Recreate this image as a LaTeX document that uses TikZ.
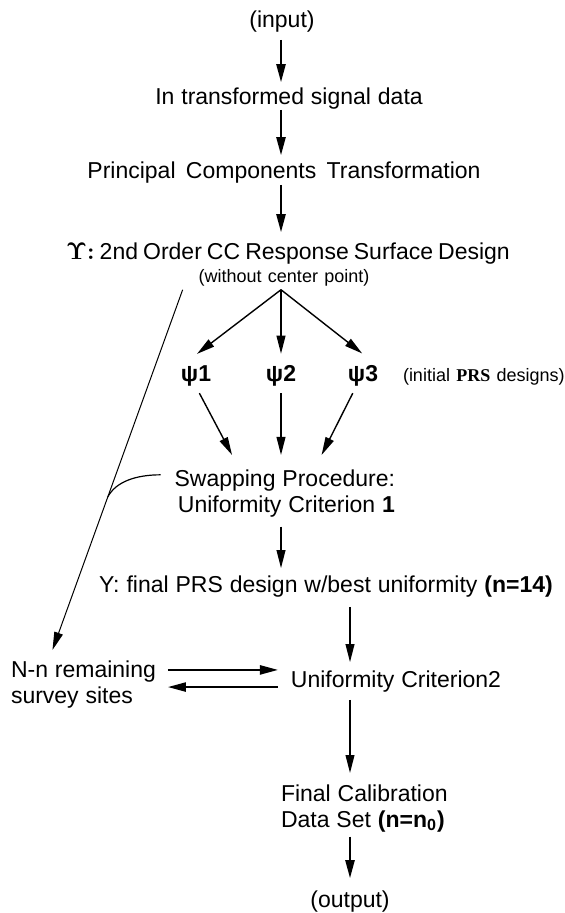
\documentclass[tikz,border=0pt]{standalone}
\usepackage{fontspec}
\setmainfont{Liberation Sans}
\newfontfamily\prsfont{Liberation Serif}
\usetikzlibrary{arrows.meta,calc}
\begin{document}
\begin{tikzpicture}[x=0.5pt,y=-0.5pt,
    lbl/.style={inner sep=0pt, outer sep=0pt, font={\fontsize{11.5}{12.8}\selectfont\spaceskip=0.3em\relax}},
    small/.style={inner sep=0pt, outer sep=0pt, font={\fontsize{9}{11}\selectfont\spaceskip=0.35em\relax}},
    arr/.style={line width=0.9pt, -{Triangle[length=9pt,width=4.6pt]}},
    thinarr/.style={line width=0.7pt, -{Triangle[length=9pt,width=4.4pt]}}]
    \useasboundingbox (0,0) rectangle (564,913);

    % Main column
    \node[lbl, anchor=base] (input) at (282,28) {(input)};
    \node[lbl, anchor=base] (tdata) at (289,105) {In transformed signal data};
    \node[lbl, anchor=base] (pct) at (284,179) {{\spaceskip=0.45em Principal Components Transformation}};
    \node[lbl, anchor=base] (ccd) at (288,260) {{\spaceskip=0.22em{\boldmath$\Upsilon{:}$} 2nd Order CC Response Surface Design}};
    \node[small, anchor=base] (wo) at (284,283) {(without center point)};

    % Initial designs
    \node[lbl, anchor=base] (p1) at (196,382) {\textbf{ψ1}};
    \node[lbl, anchor=base] (p2) at (281,382) {\textbf{ψ2}};
    \node[lbl, anchor=base] (p3) at (363,382) {\textbf{ψ3}};
    \node[small, anchor=base west] (init) at (403,382) {(initial {\prsfont\bfseries PRS} designs)};

    \node[lbl, anchor=north east, align=right] (swap) at (395,470) {Swapping Procedure:\\Uniformity Criterion \textbf{1}};
    \node[lbl, anchor=base] (fin) at (326,592) {Y: final PRS design w/best uniformity \textbf{(n=14)}};

    % Second stage
    \node[lbl, anchor=north west, align=left] (rem) at (11,661) {N-n remaining\\survey sites};
    \node[lbl, anchor=base] (uc2) at (396,687) {Uniformity Criterion2};
    \node[lbl, anchor=north west, align=left] (cal) at (281,785) {Final Calibration\\Data Set \textbf{(n=n\textsubscript{0})}};
    \node[lbl, anchor=base] (out) at (350,907) {(output)};

    % Arrows down the main column
    \draw[arr, shorten <=3.5pt, shorten >=3.1pt] (input.south -| p2) -- (tdata.north -| p2);
    \draw[arr, shorten >=3.6pt] (tdata.south -| p2) -- (pct.north -| p2);
    \draw[arr, shorten <=0.5pt, shorten >=5.6pt] (pct.south -| p2) -- (ccd.north -| p2);

    % Split into the three designs
    \coordinate (split) at ($(wo.south -| p2)+(0,3)$);
    \draw[thinarr, shorten >=10.1pt] (split) -- (p1.north west);
    \draw[thinarr, shorten >=6.1pt] (split) -- (p2.north);
    \draw[thinarr, shorten >=10.1pt] (split) -- (p3.north east);

    \draw[thinarr, shorten <=3.6pt, shorten >=8.5pt] (p1.south) -- ($(swap.north -| p2)+(-41,0)$);
    \draw[thinarr, shorten <=3.2pt, shorten >=7.5pt] (p2.south) -- (swap.north -| p2);
    \draw[thinarr, shorten <=3.6pt, shorten >=8.4pt] ($(p3.south)+(-7,0)$) -- ($(swap.north -| p2)+(33,0)$);

    \draw[thinarr, shorten <=4.8pt, shorten >=3.6pt] (swap.south -| p2) -- (fin.north -| p2);
    \draw[thinarr, shorten <=5pt, shorten >=4.1pt] (fin.south -| out) -- (uc2.north -| out);
    \draw[thinarr, shorten <=4pt, shorten >=6pt] (uc2.south -| out) -- (cal.north -| out);
    \draw[arr, shorten <=2.3pt, shorten >=6.1pt] (cal.south -| out) -- (out.north);

    % Exchange with remaining sites
    \draw[arr, shorten <=6pt, shorten >=6.5pt] ($(rem.east)+(0,-14.6)$) -- ($(rem.east -| uc2.west)+(0,-14.6)$);
    \draw[arr, shorten <=6.5pt, shorten >=6pt] ($(uc2.west)+(0,6)$) -- ($(uc2.west -| rem.east)+(0,6)$);

    % Long line to the remaining sites
    \coordinate (lstart) at ($(wo.south west)+(-16,3)$);
    \coordinate (lend) at ($(rem.north)+(-31,-11)$);
    \draw[line width=0.5pt, -{Triangle[length=9pt,width=4.4pt]}] (lstart) -- (lend) coordinate[pos=0.575] (join);
    \draw[line width=0.6pt] ($(swap.west)+(-14,-18.7)$) .. controls +(-25,0) and +(8,-15) .. (join);
\end{tikzpicture}
\end{document}
